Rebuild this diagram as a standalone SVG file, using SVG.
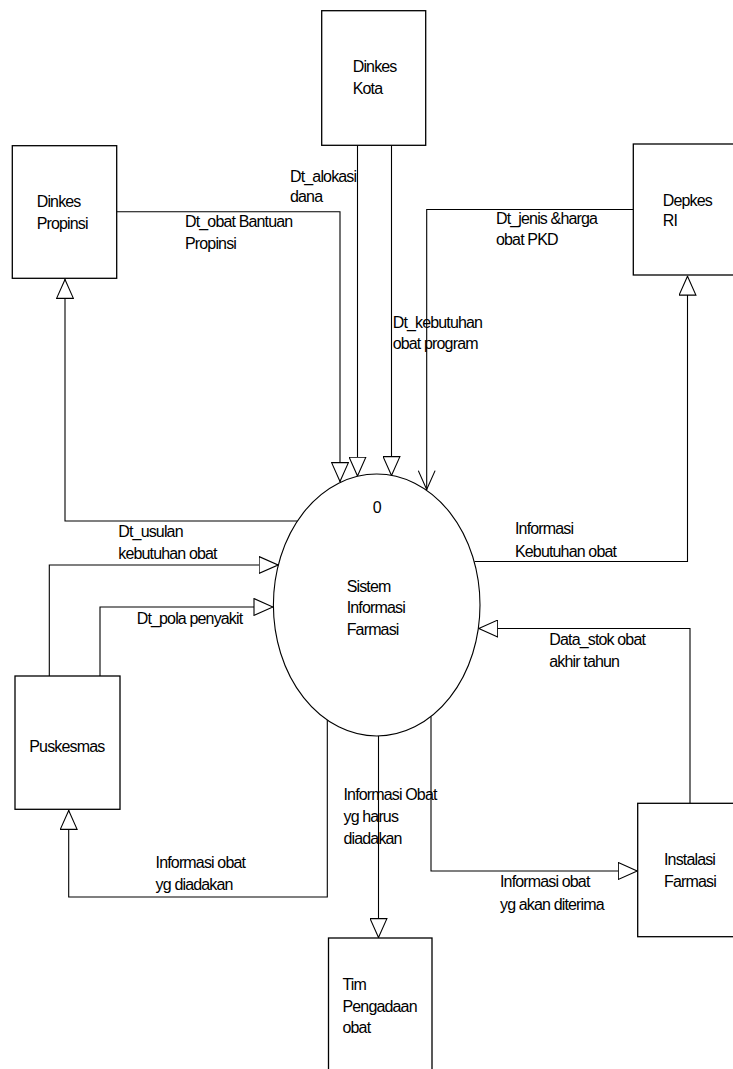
<svg xmlns="http://www.w3.org/2000/svg" width="733" height="1069" viewBox="0 0 733 1069">
<style>
  .box { fill: #fff; stroke: #000; stroke-width: 1.3; }
  .proc { fill: #fff; stroke: #000; stroke-width: 1.1; }
  .flow { fill: none; stroke: #000; stroke-width: 1.1; }
  text { font-family: "Liberation Sans", Arial, sans-serif; font-size: 16px; letter-spacing: -0.85px; fill: #000; }
</style>
<defs>
  <marker id="tri" viewBox="0 0 20 18" refX="20" refY="9" markerWidth="20" markerHeight="18" markerUnits="userSpaceOnUse" orient="auto">
    <path d="M0.6,0.6 L19.5,9 L0.6,17.4 Z" fill="#fff" stroke="#000" stroke-width="1.1"/>
  </marker>
  <marker id="vee" viewBox="0 0 20 18" refX="20" refY="9" markerWidth="20" markerHeight="18" markerUnits="userSpaceOnUse" orient="auto">
    <path d="M0.6,0.6 L19.5,9 L0.6,17.4" fill="none" stroke="#000" stroke-width="1.1"/>
  </marker>
</defs>

<g id="connectors">
  <path class="flow" d="M116.7,211.7 H340 V482" marker-end="url(#tri)"/>
  <path class="flow" d="M357.5,145.3 V476.5" marker-end="url(#tri)"/>
  <path class="flow" d="M391.5,145.3 V476" marker-end="url(#tri)"/>
  <path class="flow" d="M633,209.5 H426.7 V490" marker-end="url(#vee)"/>
  <path class="flow" d="M297.5,521 H65 V279" marker-end="url(#tri)"/>
  <path class="flow" d="M474.5,561.5 H687.5 V275.7" marker-end="url(#tri)"/>
  <path class="flow" d="M49.3,676 V565 H278.5" marker-end="url(#tri)"/>
  <path class="flow" d="M100,676 V607 H273.4" marker-end="url(#tri)"/>
  <path class="flow" d="M690,803.3 V628.5 H478.3" marker-end="url(#tri)"/>
  <path class="flow" d="M327.3,720 V897 H68.7 V810" marker-end="url(#tri)"/>
  <path class="flow" d="M378.5,736 V938" marker-end="url(#tri)"/>
  <path class="flow" d="M431,716.5 V871 H637.7" marker-end="url(#tri)"/>
</g>

<g id="labels">
  <text x="290" y="181.7">Dt_alokasi</text>
  <text x="290" y="201.7">dana</text>
  <text x="185" y="226.7">Dt_obat Bantuan</text>
  <text x="185" y="249">Propinsi</text>
  <text x="496" y="224.3">Dt_jenis &amp;harga</text>
  <text x="496" y="245">obat PKD</text>
  <text x="392.7" y="328">Dt_kebutuhan</text>
  <text x="392.7" y="349">obat program</text>
  <text x="118.3" y="536.7">Dt_usulan</text>
  <text x="118.3" y="559">kebutuhan obat</text>
  <text x="136.7" y="624">Dt_pola penyakit</text>
  <text x="515" y="534">Informasi</text>
  <text x="515" y="556.7">Kebutuhan obat</text>
  <text x="549.3" y="645">Data_stok obat</text>
  <text x="549.3" y="667">akhir tahun</text>
  <text x="343.5" y="800">Informasi Obat</text>
  <text x="343.5" y="822">yg harus</text>
  <text x="343.5" y="844">diadakan</text>
  <text x="155.6" y="868">Informasi obat</text>
  <text x="155.6" y="890">yg diadakan</text>
  <text x="500" y="887">Informasi obat</text>
  <text x="500" y="910">yg akan diterima</text>
</g>

<g id="dinkes-kota">
  <rect class="box" x="321.7" y="10.7" width="104" height="134.6"/>
  <text x="352.7" y="71.7">Dinkes</text>
  <text x="352.7" y="94">Kota</text>
</g>

<g id="dinkes-propinsi">
  <rect class="box" x="12.3" y="145.7" width="104.4" height="132.6"/>
  <text x="36.7" y="207">Dinkes</text>
  <text x="36.7" y="229">Propinsi</text>
</g>

<g id="depkes-ri">
  <rect class="box" x="633.3" y="144" width="110" height="131"/>
  <text x="662.7" y="206">Depkes</text>
  <text x="662.7" y="226">RI</text>
</g>

<g id="sistem">
  <ellipse class="proc" cx="376.7" cy="605" rx="103.3" ry="131"/>
  <text x="376.7" y="513.3" text-anchor="middle">0</text>
  <text x="346.7" y="591.7">Sistem</text>
  <text x="346.7" y="613.3">Informasi</text>
  <text x="346.7" y="635">Farmasi</text>
</g>

<g id="puskesmas">
  <rect class="box" x="15" y="676" width="105" height="133.3"/>
  <text x="29.3" y="751.7">Puskesmas</text>
</g>

<g id="instalasi-farmasi">
  <rect class="box" x="637.7" y="803.3" width="110" height="133.4"/>
  <text x="664" y="865">Instalasi</text>
  <text x="664" y="887">Farmasi</text>
</g>

<g id="tim-pengadaan">
  <rect class="box" x="328.5" y="938" width="103.5" height="140"/>
  <text x="342.5" y="990">Tim</text>
  <text x="342.5" y="1012">Pengadaan</text>
  <text x="342.5" y="1033">obat</text>
</g>
</svg>
